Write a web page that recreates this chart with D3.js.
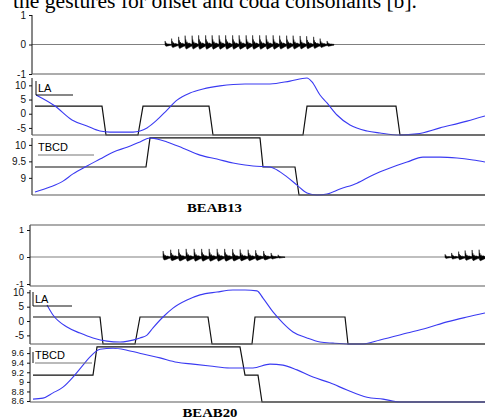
<!DOCTYPE html>
<html>
<head>
<meta charset="utf-8">
<script src="https://cdn.jsdelivr.net/npm/d3@7"></script>
<style>
  body { margin: 0; background: #fff; }
  svg { display: block; }
  .tick text { font-family: "Liberation Sans", Arial, sans-serif; font-size: 10px; fill: #111; }
  .tick line { stroke: #111; }
</style>
</head>
<body>
<div id="chart"></div>
<script>
// ---- data (time in ms) ----
const captionText = 'the gestures for onset and coda consonants [b].'
const titles = ['BEAB13', 'BEAB20']

// BEAB13
const b13PulseT = [266, 279, 293, 306, 320, 333, 347, 360, 374, 387, 401, 414, 428, 441, 455, 468, 482, 495, 509, 522, 536, 549, 563, 576, 590]
const b13PulseA = [0.12, 0.2, 0.26, 0.3, 0.3, 0.31, 0.31, 0.31, 0.31, 0.31, 0.31, 0.31, 0.31, 0.31, 0.31, 0.31, 0.31, 0.3, 0.3, 0.3, 0.29, 0.28, 0.26, 0.2, 0.12]
const b13LaT = [8, 46, 80, 110, 136, 156, 202, 216, 230, 250, 270, 290, 316, 342, 376, 426, 476, 516, 550, 560, 576, 590, 610, 636, 670, 696, 736, 770, 816, 870, 906]
const b13LaV = [6.6, 2.7, -2.2, -4.3, -6.1, -6.5, -6.5, -6.1, -5.0, -2.2, 1.3, 4.8, 7.3, 8.7, 9.8, 10.5, 10.5, 11.5, 12.6, 11.2, 6.6, 3.8, -0.45, -4.0, -6.1, -6.8, -7.5, -7.1, -5.0, -2.6, -0.8]
const b13LaGestT = [6, 140, 148, 212, 222, 354, 362, 542, 550, 728, 736, 906]
const b13LaGestV = [2.7, 2.7, -7.5, -7.5, 2.7, 2.7, -7.5, -7.5, 2.7, 2.7, -7.5, -7.5]
const b13TbT = [6, 36, 62, 82, 110, 136, 162, 190, 216, 236, 250, 270, 302, 336, 370, 402, 426, 442, 476, 490, 510, 530, 550, 570, 590, 616, 650, 682, 716, 750, 782, 816, 850, 882, 906]
const b13TbV = [8.57, 8.72, 8.9, 9.12, 9.36, 9.57, 9.78, 9.93, 10.09, 10.21, 10.18, 10.09, 9.9, 9.69, 9.57, 9.45, 9.39, 9.36, 9.33, 9.24, 9.03, 8.78, 8.54, 8.48, 8.51, 8.66, 8.84, 9.09, 9.3, 9.48, 9.63, 9.63, 9.6, 9.54, 9.48]
const b13TbGestT = [6, 228, 236, 456, 462, 526, 534, 906]
const b13TbGestV = [9.33, 9.33, 10.21, 10.21, 9.33, 9.33, 8.48, 8.48]

// BEAB20
const b20PulseT = [266, 281, 297, 312, 328, 343, 358, 374, 389, 405, 420, 436, 451, 467, 482, 496, 830, 843, 857, 870, 884, 898]
const b20PulseA = [0.22, 0.27, 0.29, 0.3, 0.3, 0.3, 0.3, 0.3, 0.3, 0.29, 0.28, 0.27, 0.25, 0.22, 0.15, 0.08, 0.1, 0.15, 0.2, 0.24, 0.26, 0.27]
const b20LaT = [34, 46, 74, 100, 126, 154, 180, 196, 220, 234, 246, 266, 286, 314, 340, 374, 406, 430, 454, 466, 486, 506, 526, 554, 580, 606, 640, 666, 700, 754, 794, 834, 874, 910]
const b20LaV = [5.6, 2.1, -2.1, -4.2, -5.9, -7.0, -7.3, -7.0, -5.9, -4.9, -2.4, 1.4, 4.5, 7.3, 9.1, 10.1, 10.8, 10.8, 10.5, 8.0, 3.2, -0.7, -3.8, -5.9, -7.3, -7.7, -8.0, -8.0, -6.6, -4.2, -2.4, -0.3, 1.4, 2.8]
const b20LaGestT = [6, 140, 146, 210, 220, 356, 364, 444, 450, 630, 636, 910]
const b20LaGestV = [1.4, 1.4, -8, -8, 1.4, 1.4, -8, -8, 1.4, 1.4, -8, -8]
const b20TbT = [6, 26, 46, 66, 86, 106, 120, 130, 140, 166, 194, 226, 260, 294, 326, 360, 400, 446, 480, 506, 534, 566, 600, 634, 674, 706, 740, 910]
const b20TbV = [8.64, 8.66, 8.77, 8.89, 9.1, 9.35, 9.52, 9.62, 9.68, 9.7, 9.66, 9.58, 9.5, 9.41, 9.37, 9.33, 9.29, 9.29, 9.37, 9.35, 9.25, 9.1, 8.98, 8.83, 8.68, 8.64, 8.58, 8.58]
const b20TbGestT = [6, 126, 134, 420, 430, 456, 464, 910]
const b20TbGestV = [9.14, 9.14, 9.73, 9.73, 9.14, 9.14, 8.58, 8.58]

const waveTicks = [1, 0, -1]
const laTicks = [10, 5, 0, -5]
const b13TbTicks = [10, 9.5, 9]
const b20TbTicks = [9.6, 9.4, 9.2, 9, 8.8, 8.6]

// glottal pulse glyph: [fraction of period, fraction of amplitude]
const pulseShape = [[0, 0], [0.02, 1], [0.07, 0.25], [0.12, 0.55], [0.17, 0.18], [0.28, 0.32], [0.4, 0.12],
  [0.6, 0.16], [0.85, 0.06], [1, 0.04], [1, -0.18], [0.75, -0.26], [0.45, -0.4], [0.18, -0.52], [0.06, -0.35]]

const W = 485, H = 419
const blue = '#3a3af2', border = '#5a5a5a'

const svg = d3.select('#chart').append('svg')
  .attr('width', W).attr('height', H)
  .style('background', '#fff')

// caption cut at the top of the page
svg.append('text')
  .attr('x', 13).attr('y', 7.5)
  .attr('textLength', 404).attr('lengthAdjust', 'spacingAndGlyphs')
  .style('font-family', '"Liberation Serif", "Times New Roman", serif')
  .style('font-size', '20px')
  .text(captionText)

const figs = [
  {
    name: titles[0], x0: 32, tMax: 906, titleX: 214.5, titleY: 212, topBorder: false,
    wave: { top: 15, bottom: 74, range: [74, 15], axisTop: 15, t: b13PulseT, a: b13PulseA },
    la: { top: 74, bottom: 135, domain: [-7.5, 14], axisTop: 78, t: b13LaT, v: b13LaV, gt: b13LaGestT, gv: b13LaGestV,
      ticks: laTicks, leg: { vx: 36, vy0: 81, ly: 95, lx1: 73, tx: 38, ty: 92, color: '#111' } },
    tb: { top: 135, bottom: 195, domain: [8.48, 10.3], axisTop: 138, t: b13TbT, v: b13TbV, gt: b13TbGestT, gv: b13TbGestV,
      ticks: b13TbTicks, leg: { vx: null, ly: 155, lx0: 38, lx1: 94, tx: 38, ty: 150.5, color: '#777' } }
  },
  {
    name: titles[1], x0: 30, tMax: 910, titleX: 210, titleY: 417, topBorder: true,
    wave: { top: 225, bottom: 286, range: [284, 230], axisTop: 225, t: b20PulseT, a: b20PulseA },
    la: { top: 286, bottom: 344, domain: [-8, 12.2], axisTop: 290, t: b20LaT, v: b20LaV, gt: b20LaGestT, gv: b20LaGestV,
      ticks: laTicks, leg: { vx: 33, vy0: 292, ly: 306, lx1: 72, tx: 35, ty: 303, color: '#111' } },
    tb: { top: 344, bottom: 402, domain: [8.58, 9.79], axisTop: 347, t: b20TbT, v: b20TbV, gt: b20TbGestT, gv: b20TbGestV,
      ticks: b20TbTicks, leg: { vx: 33, vy0: 352, ly: 363, lx0: 35, lx1: 92, tx: 35, ty: 358.5, color: '#777' } }
  }
]

function leftAxis(g, y, ticks, x0, fs) {
  const ax = g.append('g')
    .attr('transform', `translate(${x0},0)`)
    .call(d3.axisLeft(y).tickValues(ticks).tickSize(3).tickPadding(3).tickFormat(d => String(d)))
  ax.select('.domain').remove()
  if (fs) ax.selectAll('.tick text').style('font-size', fs)
}

figs.forEach((f, fi) => {
  const g = svg.append('g').attr('id', 'fig' + fi)
  const x = d3.scaleLinear().domain([0, f.tMax]).range([f.x0, W])

  // waveform panel
  const wy = d3.scaleLinear().domain([-1, 1]).range(f.wave.range)
  g.append('line')
    .attr('x1', f.x0).attr('x2', W).attr('y1', wy(0)).attr('y2', wy(0))
    .style('stroke', '#808080').style('stroke-width', 1.2)
  const pulses = f.wave.t.map((t, i) => {
    const next = f.wave.t[i + 1]
    const per = next && next - t < 20 ? next - t : 14
    return { t, a: f.wave.a[i], per }
  })
  g.append('g').selectAll('path')
    .data(pulses)
    .join('path')
    .attr('d', p => d3.line()(pulseShape.map(s => [x(p.t + s[0] * p.per), wy(s[1] * p.a)])) + 'Z')
    .style('fill', '#000')
    .style('stroke', '#000')
    .style('stroke-width', 0.5)
  leftAxis(g, wy, waveTicks, f.x0, fi === 1 ? '9px' : null)
  g.append('line')
    .attr('x1', f.x0).attr('x2', f.x0).attr('y1', f.wave.axisTop).attr('y2', f.wave.bottom)
    .style('stroke', '#111')

  // articulator panels
  ;[['LA', f.la], ['TBCD', f.tb]].forEach(([label, p], pi) => {
    const y = d3.scaleLinear().domain(p.domain).range([p.bottom, p.top])
    const clipId = `clip${fi}_${pi}`
    g.append('clipPath').attr('id', clipId)
      .append('rect').attr('x', f.x0).attr('y', p.top).attr('width', W - f.x0).attr('height', p.bottom - p.top + 1)
    const pg = g.append('g').attr('clip-path', `url(#${clipId})`)

    // gesture activation (black)
    pg.append('path')
      .datum(p.gt.map((t, i) => [t, p.gv[i]]))
      .attr('d', d3.line().x(d => x(d[0])).y(d => y(d[1])))
      .style('fill', 'none').style('stroke', '#111').style('stroke-width', 1.2)

    // tract variable trajectory (blue)
    pg.append('path')
      .datum(p.t.map((t, i) => [t, p.v[i]]))
      .attr('d', d3.line().curve(d3.curveMonotoneX).x(d => x(d[0])).y(d => y(d[1])))
      .style('fill', 'none').style('stroke', blue).style('stroke-width', 1.1)

    // legend fragment
    const lg = p.leg
    if (lg.vx != null) {
      g.append('line')
        .attr('x1', lg.vx).attr('x2', lg.vx).attr('y1', lg.vy0).attr('y2', lg.ly)
        .style('stroke', '#111')
    }
    g.append('line')
      .attr('x1', lg.lx0 != null ? lg.lx0 : lg.vx).attr('x2', lg.lx1).attr('y1', lg.ly).attr('y2', lg.ly)
      .style('stroke', lg.color).style('stroke-width', 1.2)
    g.append('text')
      .attr('x', lg.tx).attr('y', lg.ty)
      .style('font-family', '"Liberation Sans", Arial, sans-serif')
      .style('font-size', '11px')
      .text(label)

    leftAxis(g, y, p.ticks, f.x0, fi === 1 && pi === 1 ? '9px' : null)
    g.append('line')
      .attr('x1', f.x0).attr('x2', f.x0).attr('y1', p.axisTop).attr('y2', p.bottom)
      .style('stroke', '#111')
  })

  // panel separators
  const seps = [f.wave.bottom, f.la.bottom, f.tb.bottom]
  if (f.topBorder) seps.push(f.wave.top)
  g.append('g').selectAll('line')
    .data(seps)
    .join('line')
    .attr('x1', f.x0).attr('x2', W).attr('y1', d => d).attr('y2', d => d)
    .style('stroke', border).style('stroke-width', 1.2)

  // figure title
  g.append('text')
    .attr('x', f.titleX).attr('y', f.titleY)
    .attr('text-anchor', 'middle')
    .attr('textLength', 55).attr('lengthAdjust', 'spacingAndGlyphs')
    .style('font-family', '"Liberation Serif", "Times New Roman", serif')
    .style('font-size', '13px').style('font-weight', 'bold')
    .text(f.name)
})
</script>
</body>
</html>
